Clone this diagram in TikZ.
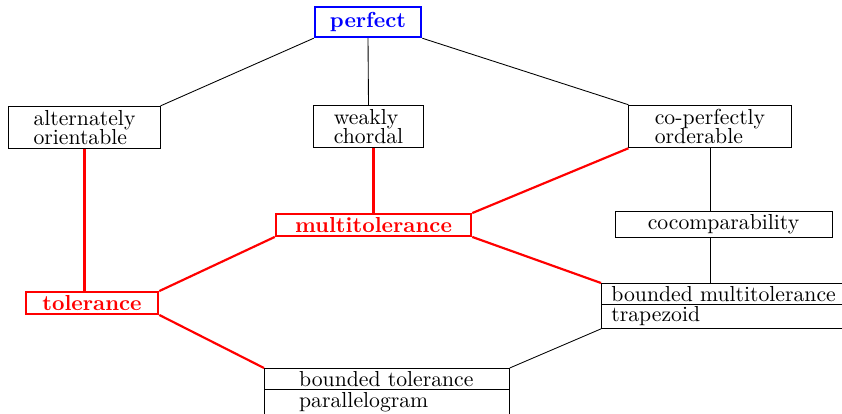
\documentclass[tikz,border=0pt]{standalone}
\usepackage{amsmath}
\usetikzlibrary{shapes.multipart}

\begin{document}
\begin{tikzpicture}[x = 0.4608pt, y = -0.4608pt,
    box/.style = {rectangle,
      draw = black,
      inner ysep = 1.5pt,
      align = left},
    hotbox/.style = {rectangle,
      draw = red,
      line width = 1pt,
      text = red,
      font = \bfseries,
      inner ysep = 1.5pt},
    splitbox/.style = {rectangle split,
      rectangle split parts = 2,
      draw = black,
      align = left,
      inner ysep = 1pt,
      anchor = north west},
    hotedge/.style = {draw = red, line width = 1pt}]

\clip (0,0) rectangle (842,413);

% top
\node[rectangle,
    draw = blue,
    line width = 1pt,
    text = blue,
    font = \bfseries,
    inner ysep = 2.5pt,
    minimum width = 49pt] (perfect) at (368,22) {perfect};

% second row
\node[box, inner ysep = 2pt, minimum width = 69.7pt] (alt) at (84.5,127.5) {alternately\\[-3.5pt]orientable};
\node[box, inner ysep = 2pt, minimum width = 50.3pt] (weakly) at (368.5,126.5) {weakly\\[-3.5pt]chordal};
\node[box, inner ysep = 2pt, minimum width = 74.8pt] (coperf) at (710,126.5) {co-perfectly\\[-3.5pt]orderable};

% third row
\node[hotbox, minimum width = 90pt] (multitol) at (373.5,225) {multitolerance};
\node[box, minimum width = 100pt] (cocomp) at (723.5,224.5) {cocomparability};

% bottom
\node[hotbox, minimum width = 61pt] (tol) at (92,303) {tolerance};
\node[splitbox,
    text width = 104pt,
    inner xsep = 4.6pt] (bmt) at (601,283) {bounded multitolerance \nodepart{two} trapezoid};
\node[splitbox,
    text width = 80.8pt,
    inner xsep = 16pt,
    inner ysep = 1.2pt] (bt) at (264,368) {bounded tolerance \nodepart{two} parallelogram};

% black edges
\draw (perfect.south west) -- (alt.north east);
\draw (perfect.south) -- (weakly.north);
\draw (perfect.south east) -- (coperf.north west);
\draw (coperf.south) -- (coperf.south |- cocomp.north);
\draw (coperf.south |- cocomp.south) -- (coperf.south |- bmt.north);
\draw (bmt.south west) -- (bt.north east);

% red edges
\draw[hotedge] (alt.south) -- (alt.south |- tol.north);
\draw[hotedge] (multitol.north |- weakly.south) -- (multitol.north);
\draw[hotedge] (coperf.south west) -- (multitol.north east);
\draw[hotedge] (multitol.south west) -- (tol.north east);
\draw[hotedge] (multitol.south east) -- (bmt.north west);
\draw[hotedge] (tol.south east) -- (bt.north west);

\end{tikzpicture}
\end{document}
